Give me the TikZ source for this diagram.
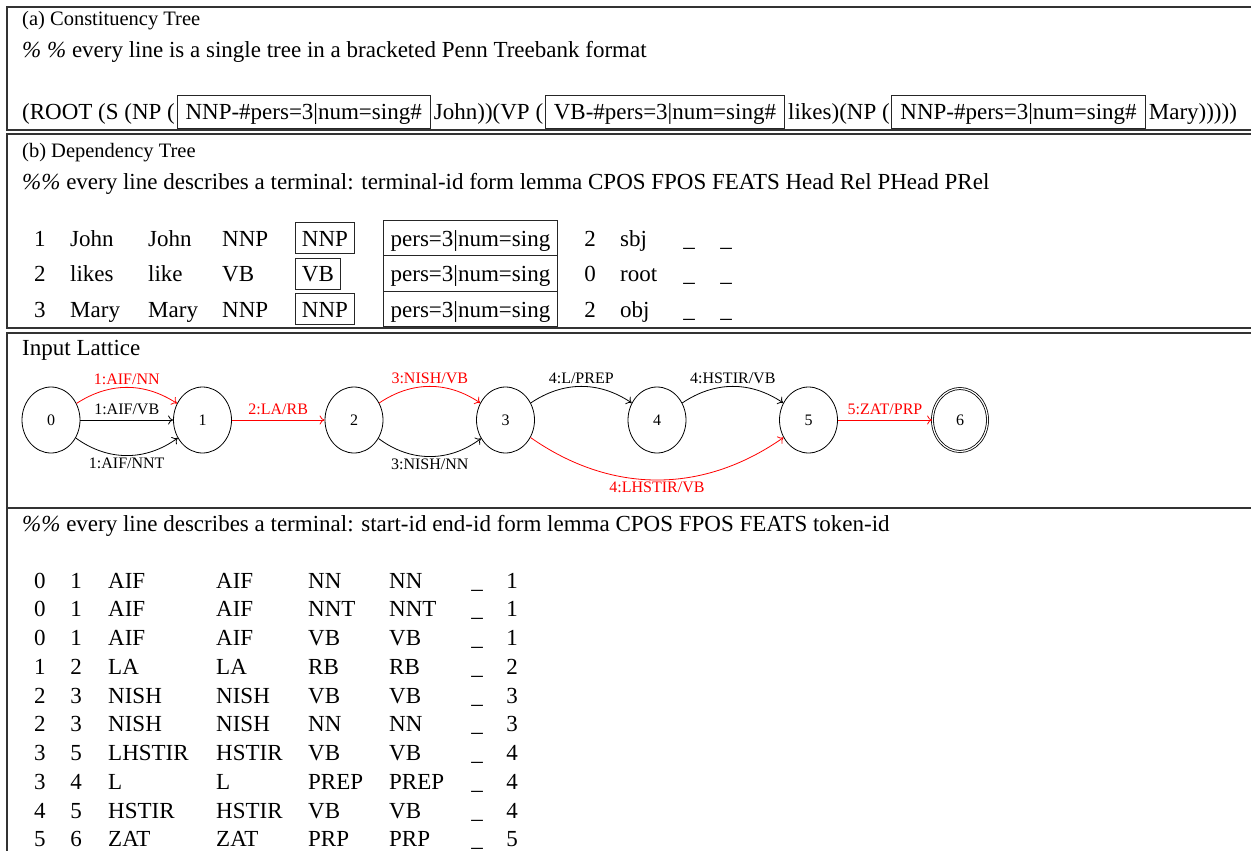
\documentclass[tikz,border=0pt]{standalone}
\usepackage{fontspec}
\setmainfont{Liberation Serif}
\usetikzlibrary{arrows.meta,shapes.geometric}
\newcommand\mainsz{\fontsize{23}{27}\selectfont}
\newcommand\titsz{\fontsize{20.5}{24}\selectfont}
\newcommand\labsz{\fontsize{16}{18}\selectfont}
\begin{document}
\begin{tikzpicture}[x=1pt,y=-1pt,
  every node/.style={inner sep=0pt, font=\mainsz},
  txt/.style={anchor=base west},
  ttl/.style={anchor=base west, font=\titsz},
  ctr/.style={anchor=base},
  framel/.style={draw=black!80, line width=1.3pt},
  cbox/.style={draw=black!85, line width=0.9pt, anchor=base west, inner xsep=8.5pt, inner ysep=5pt, text height=19pt, text depth=4pt},
  fbox/.style={draw=black!85, line width=0.9pt, anchor=base west, inner xsep=6.5pt, inner ysep=3.5pt, text height=20pt, text depth=4pt},
  pbox/.style={draw=black!85, line width=0.9pt, anchor=base west, inner xsep=7pt, inner ysep=5.75pt, text height=20pt, text depth=4pt, minimum width=174pt},
  st/.style={ellipse, draw, line width=0.8pt, minimum width=58pt, minimum height=66pt, font=\labsz},
  fin/.style={st, double, double distance=1.2pt, minimum width=55pt, minimum height=63pt},
  ed/.style={draw, line width=0.8pt, -{To[length=5pt,width=9pt]}},
  lab/.style={font=\labsz, inner sep=2pt}
]
\useasboundingbox (0,0) rectangle (1251,851);
% frames
\draw[framel] (1251,7) -- (7,7) -- (7,130) -- (1251,130);
\draw[framel] (1251,134) -- (7,134) -- (7,328) -- (1251,328);
\draw[framel] (1251,333) -- (7,333) -- (7,508) -- (1251,508);
\draw[framel] (7,508) -- (7,851);

% (a)
\node[ttl] (ta) at (22,26) {(a) Constituency Tree};
\node[txt] (ca) at (22,58) {\textit{\%} \textit{\%} every line is a single tree in a bracketed Penn Treebank format};
\node[txt] (a1) at (22,119) {(ROOT (S (NP (};
\node[cbox] (a2) at ([xshift=1.5pt]a1.base east) {NNP-\#pers=3|num=sing\#};
\node[txt] (a3) at ([xshift=3pt]a2.base east) {John))(VP (};
\node[cbox] (a4) at ([xshift=1.5pt]a3.base east) {VB-\#pers=3|num=sing\#};
\node[txt] (a5) at ([xshift=3pt]a4.base east) {likes)(NP (};
\node[cbox] (a6) at ([xshift=1.5pt]a5.base east) {NNP-\#pers=3|num=sing\#};
\node[txt] (a7) at ([xshift=3pt]a6.base east) {Mary)))))};

% (b)
\node[ttl] (tb) at (22,157) {(b) Dependency Tree};
\node[txt] (cb) at (22,189) {\textit{\%\%} every line describes a terminal: terminal-id form lemma CPOS FPOS FEATS Head Rel PHead PRel};
\foreach \n/\f/\l/\c/\h/\r [count=\k from 0] in {1/John/John/NNP/2/sbj,2/likes/like/VB/0/root,3/Mary/Mary/NNP/2/obj}{
  \pgfmathsetmacro\yy{246+35.5*\k}
  \node[ctr] (b\n id) at (40,\yy) {\n};
  \node[txt] (b\n fo) at (70,\yy) {\f};
  \node[txt] (b\n le) at (148,\yy) {\l};
  \node[txt] (b\n cp) at (222,\yy) {\c};
  \node[fbox] (b\n fp) at (295,\yy) {\c};
  \node[pbox] (b\n fe) at (383,\yy) {pers=3|num=sing};
  \node[ctr] (b\n hd) at (590,\yy) {\h};
  \node[txt] (b\n rl) at (620,\yy) {\r};
  \node[ctr] (b\n ph) at (689,\yy) {\_};
  \node[ctr] (b\n pr) at (726,\yy) {\_};
}

% (c) lattice
\node[txt] (tc) at (22,355) {Input Lattice};
\node[st] (n0) at (51,420) {0};
\node[st] (n1) at (202.5,420) {1};
\node[st] (n2) at (354,420) {2};
\node[st] (n3) at (505.5,420) {3};
\node[st] (n4) at (657,420) {4};
\node[st] (n5) at (808.5,420) {5};
\node[fin] (n6) at (960,420) {6};
\draw[ed, red] (n0) to[bend left=33] node[lab, above] {1:AIF/NN} (n1);
\draw[ed] (n0) -- node[lab, above=3pt] {1:AIF/VB} (n1);
\draw[ed] (n0) to[bend right=36] node[lab, below] {1:AIF/NNT} (n1);
\draw[ed, red] (n1) -- node[lab, above=3pt] {2:LA/RB} (n2);
\draw[ed, red] (n2) to[bend left=34] node[lab, above] {3:NISH/VB} (n3);
\draw[ed] (n2) to[bend right=37] node[lab, below] {3:NISH/NN} (n3);
\draw[ed] (n3) to[bend left=34] node[lab, above] {4:L/PREP} (n4);
\draw[ed] (n4) to[bend left=34] node[lab, above] {4:HSTIR/VB} (n5);
\draw[ed, red] (n3) to[bend right=35] node[lab, below] {4:LHSTIR/VB} (n5);
\draw[ed, red] (n5) -- node[lab, above=3pt] {5:ZAT/PRP} (n6);

% (d)
\node[txt] (cd) at (22,531) {\textit{\%\%} every line describes a terminal: start-id end-id form lemma CPOS FPOS FEATS token-id};
\foreach \s/\e/\f/\l/\c/\p/\t [count=\k from 0] in {0/1/AIF/AIF/NN/NN/1,0/1/AIF/AIF/NNT/NNT/1,0/1/AIF/AIF/VB/VB/1,1/2/LA/LA/RB/RB/2,2/3/NISH/NISH/VB/VB/3,2/3/NISH/NISH/NN/NN/3,3/5/LHSTIR/HSTIR/VB/VB/4,3/4/L/L/PREP/PREP/4,4/5/HSTIR/HSTIR/VB/VB/4,5/6/ZAT/ZAT/PRP/PRP/5}{
  \pgfmathsetmacro\yy{588+28.75*\k}
  \node[ctr] (d\k s) at (40,\yy) {\s};
  \node[ctr] (d\k e) at (76,\yy) {\e};
  \node[txt] (d\k f) at (108,\yy) {\f};
  \node[txt] (d\k l) at (216,\yy) {\l};
  \node[txt] (d\k c) at (308,\yy) {\c};
  \node[txt] (d\k p) at (389,\yy) {\p};
  \node[ctr] (d\k u) at (477,\yy) {\_};
  \node[ctr] (d\k t) at (512,\yy) {\t};
}
\end{tikzpicture}
\end{document}
